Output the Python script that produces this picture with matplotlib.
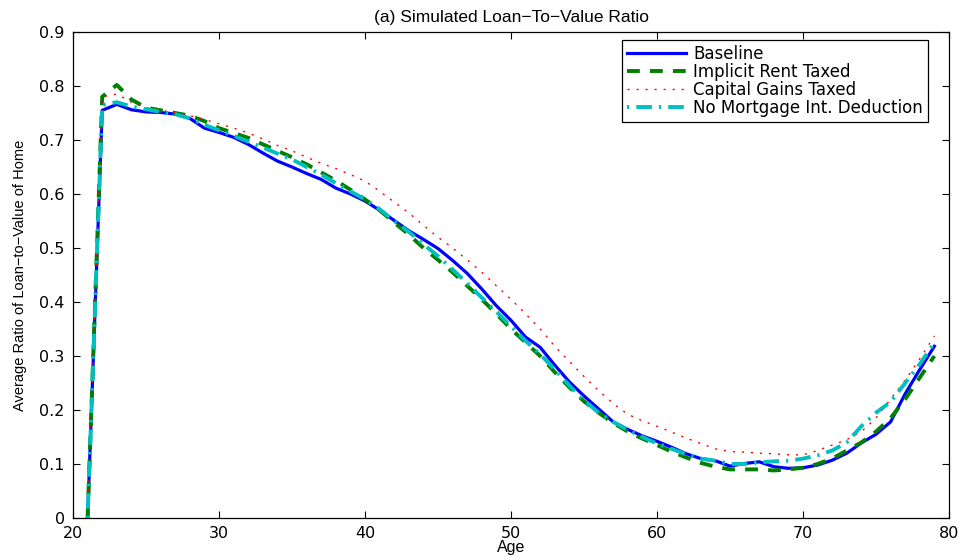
import matplotlib
matplotlib.use("Agg")
import matplotlib.pyplot as plt

ages = list(range(21, 80))

baseline = [0.0, 0.755, 0.766, 0.756, 0.752, 0.751, 0.748, 0.740, 0.722, 0.714,
            0.705, 0.692, 0.676, 0.661, 0.650, 0.638, 0.627, 0.611, 0.600, 0.587,
            0.570, 0.551, 0.532, 0.516, 0.499, 0.477, 0.453, 0.424, 0.393, 0.366,
            0.335, 0.316, 0.283, 0.252, 0.226, 0.202, 0.178, 0.164, 0.152, 0.142,
            0.131, 0.119, 0.110, 0.106, 0.096, 0.101, 0.104, 0.095, 0.092, 0.093,
            0.098, 0.107, 0.120, 0.139, 0.155, 0.178, 0.230, 0.275, 0.318]

implicit_rent = [0.0, 0.780, 0.802, 0.775, 0.760, 0.755, 0.750, 0.745, 0.735, 0.722,
                 0.713, 0.704, 0.692, 0.680, 0.668, 0.655, 0.640, 0.625, 0.608, 0.590,
                 0.570, 0.547, 0.525, 0.500, 0.478, 0.455, 0.430, 0.405, 0.378, 0.350,
                 0.325, 0.300, 0.270, 0.242, 0.216, 0.195, 0.176, 0.160, 0.147, 0.135,
                 0.123, 0.112, 0.102, 0.095, 0.090, 0.090, 0.090, 0.088, 0.090, 0.093,
                 0.100, 0.110, 0.125, 0.140, 0.160, 0.185, 0.220, 0.260, 0.300]

capital_gains = [0.0, 0.780, 0.785, 0.770, 0.760, 0.755, 0.750, 0.745, 0.738, 0.730,
                 0.722, 0.713, 0.702, 0.690, 0.680, 0.668, 0.657, 0.647, 0.636, 0.624,
                 0.605, 0.585, 0.565, 0.542, 0.520, 0.500, 0.478, 0.455, 0.430, 0.405,
                 0.378, 0.350, 0.318, 0.290, 0.262, 0.236, 0.212, 0.192, 0.180, 0.170,
                 0.159, 0.148, 0.138, 0.128, 0.123, 0.122, 0.120, 0.119, 0.117, 0.117,
                 0.125, 0.135, 0.145, 0.160, 0.185, 0.220, 0.255, 0.295, 0.337]

no_mortgage = [0.0, 0.765, 0.770, 0.762, 0.757, 0.752, 0.748, 0.740, 0.728, 0.718,
               0.708, 0.697, 0.686, 0.675, 0.664, 0.650, 0.636, 0.620, 0.605, 0.590,
               0.572, 0.550, 0.530, 0.507, 0.485, 0.460, 0.435, 0.408, 0.382, 0.355,
               0.328, 0.303, 0.275, 0.245, 0.218, 0.195, 0.178, 0.163, 0.150, 0.138,
               0.128, 0.118, 0.110, 0.106, 0.100, 0.100, 0.103, 0.105, 0.106, 0.110,
               0.116, 0.125, 0.140, 0.170, 0.195, 0.215, 0.250, 0.285, 0.325]

labels = ["Baseline", "Implicit Rent Taxed", "Capital Gains Taxed", "No Mortgage Int. Deduction"]
xticks = [20, 30, 40, 50, 60, 70, 80]
yticks = [0, 0.1, 0.2, 0.3, 0.4, 0.5, 0.6, 0.7, 0.8, 0.9]

plt.rcParams['font.family'] = ['Liberation Sans', 'DejaVu Sans']

fig = plt.figure(figsize=(9.64, 5.57), dpi=100)
ax = fig.add_axes([73/964, 1 - 518/557, (949-73)/964, (518-32)/557])

ax.plot(ages, baseline, color='#0000ff', lw=2.3, ls='-', label=labels[0])
ax.plot(ages, implicit_rent, color='#008000', lw=2.8, ls=(0, (3.3, 2.6)), label=labels[1])
ax.plot(ages, capital_gains, color='#ff0000', lw=1.0, ls=(0, (1.5, 5)), label=labels[2])
ax.plot(ages, no_mortgage, color='#00bfbf', lw=2.8, ls=(0, (0.6, 1.8, 4, 1.8)), label=labels[3])

ax.set_xlim(20, 80)
ax.set_ylim(0, 0.9)
ax.set_xticks(xticks)
ax.set_yticks(yticks)
ax.set_yticklabels(["0" if v == 0 else f"{v:.1f}" for v in yticks])
ax.tick_params(direction='in', top=True, right=True, length=5, width=0.8)
ax.tick_params(axis='x', pad=6)
ax.tick_params(axis='y', pad=6)
for lab in ax.get_xticklabels() + ax.get_yticklabels():
    lab.set_fontfamily('DejaVu Sans')
    lab.set_fontsize(11.5)
for s in ax.spines.values():
    s.set_linewidth(0.9)

ax.set_title("(a) Simulated Loan\u2212To\u2212Value Ratio", fontsize=12.5, pad=7)
ax.set_xlabel("Age", fontsize=11.5, labelpad=-1)
ax.set_ylabel("Average Ratio of Loan\u2212to\u2212Value of Home", fontsize=10.5, labelpad=9)

leg = ax.legend(loc='upper right', bbox_to_anchor=(0.976, 0.9835),
                prop={'family': 'DejaVu Sans', 'size': 12},
                fancybox=False, edgecolor='black', framealpha=1,
                handlelength=3.5, borderpad=0.3, labelspacing=0.0, handletextpad=0.45,
                borderaxespad=0.0)
leg.get_frame().set_linewidth(0.9)

fig.savefig("out.png", dpi=100)
